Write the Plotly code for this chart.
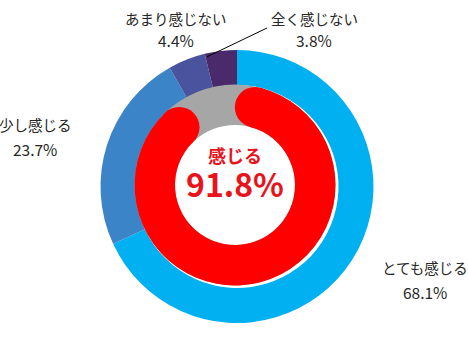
import math
import plotly.graph_objects as go

# ---- data ----
categories = ["とても感じる", "少し感じる", "あまり感じない", "全く感じない"]
values = [68.1, 23.7, 4.4, 3.8]
colors = ["#00B0F0", "#3C84C8", "#4A539E", "#4B2A6C"]
summary_label = "感じる"
summary_value = 91.8

W, H = 468, 351
FONT = "Noto Sans CJK JP"
TXT = "#262626"
RED = "#FF0000"
RED_TXT = "#E8141C"
GRAY = "#A6A6A6"

# geometry (pixels)
ocx, ocy, orad = 237.0, 186.5, 136.5
icx, icy, irad, ihole = 235.0, 185.0, 100.5, 60.0


def dom(cx, cy, r):
    return dict(x=[(cx - r) / W, (cx + r) / W],
                y=[(H - cy - r) / H, (H - cy + r) / H])


fig = go.Figure()

# outer ring
fig.add_trace(go.Pie(
    values=values, labels=categories, marker=dict(colors=colors, line=dict(width=0)),
    hole=(irad + 1) / orad, sort=False, direction="clockwise", rotation=0,
    textinfo="none", hoverinfo="label+percent", domain=dom(ocx, ocy, orad),
    showlegend=False,
))

# inner gray ring (background)
fig.add_trace(go.Pie(
    values=[100], labels=["bg"], marker=dict(colors=[GRAY], line=dict(width=0)),
    hole=ihole / irad, sort=False, textinfo="none", hoverinfo="skip",
    domain=dom(icx, icy, irad), showlegend=False,
))

# inner red arc body (rounded ends added as circles)
rm = (irad + ihole) / 2
hw = (irad - ihole) / 2
cap_pct = math.degrees(hw / rm) / 360 * 100
body = summary_value - 2 * cap_pct
fig.add_trace(go.Pie(
    values=[cap_pct, body, 100 - cap_pct - body], labels=["a", summary_label, "b"],
    marker=dict(colors=["rgba(0,0,0,0)", RED, "rgba(0,0,0,0)"], line=dict(width=0)),
    hole=ihole / irad, sort=False, direction="clockwise", rotation=0,
    textinfo="none", hoverinfo="skip", domain=dom(icx, icy, irad), showlegend=False,
))

shapes = []
for pct in (cap_pct, summary_value - cap_pct):
    a = math.radians(pct / 100 * 360)
    x = icx + rm * math.sin(a)
    y = icy - rm * math.cos(a)
    shapes.append(dict(type="circle", xref="x", yref="y", x0=x - hw, x1=x + hw,
                       y0=y - hw, y1=y + hw, fillcolor=RED, line=dict(width=0),
                       layer="above"))

# leader line for the last category
start_last = sum(values[:-1]) / 100 * 360 + 0.6
a = math.radians(start_last)
lx = ocx + orad * 0.975 * math.sin(a)
ly = ocy - orad * 0.975 * math.cos(a)
shapes.append(dict(type="line", xref="x", yref="y", x0=lx, y0=ly, x1=267, y1=28,
                   line=dict(color="#000000", width=1), layer="above"))

# labels
label_pos = [(425, 267, 292), (35, 124, 149), (176, 18, 40), (314, 18, 40)]
ann = []
for cat, v, (x, y1, y2) in zip(categories, values, label_pos):
    ann.append(dict(x=x, y=y1, xref="x", yref="y", text=cat, showarrow=False,
                    font=dict(family=FONT, size=14.5, color=TXT)))
    ann.append(dict(x=x, y=y2, xref="x", yref="y", text=f"{v:.1f}%", showarrow=False,
                    font=dict(family=FONT, size=15.5, color=TXT)))

ann.append(dict(x=235, y=174, xref="x", yref="y",
                text=(f"<b><span style='font-size:18px'>{summary_label}</span></b><br>"
                      f"<b><span style='font-size:32px'>{summary_value:.1f}%</span></b>"),
                showarrow=False, font=dict(family=FONT, size=26.5, color=RED_TXT)))

fig.update_layout(
    width=W, height=H, margin=dict(l=0, r=0, t=0, b=0),
    paper_bgcolor="white", plot_bgcolor="rgba(0,0,0,0)",
    xaxis=dict(range=[0, W], visible=False, fixedrange=True),
    yaxis=dict(range=[H, 0], visible=False, fixedrange=True),
    shapes=shapes, annotations=ann, showlegend=False,
)

fig.write_html("out.html")
